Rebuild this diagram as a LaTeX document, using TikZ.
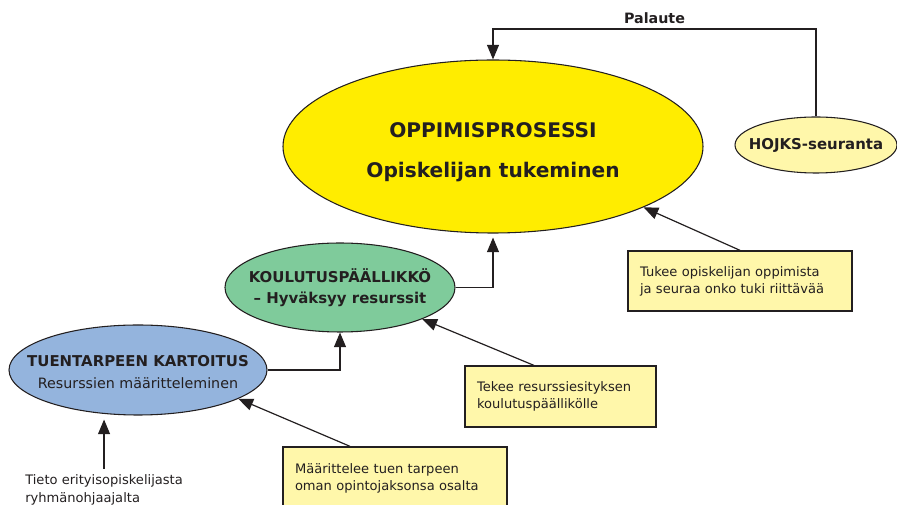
\documentclass[tikz,border=0pt]{standalone}
\usepackage{fontspec}
\setmainfont{DejaVu Sans}
\usepackage{tikz}
\usetikzlibrary{shapes.geometric,arrows.meta,calc}
\definecolor{ink}{RGB}{35,31,32}
\definecolor{oppi}{RGB}{255,237,0}
\definecolor{pale}{RGB}{255,247,170}
\definecolor{koul}{RGB}{127,203,155}
\definecolor{tuen}{RGB}{148,180,221}
\tikzset{
bubble/.style={ellipse,draw=ink,line width=0.8pt,inner sep=0pt},
btext/.style={text=ink,align=center,inner sep=0pt},
note/.style={rectangle,draw=ink,line width=1pt,fill=pale,text=ink,align=left,
  inner xsep=9pt,font=\fontsize{9.8}{12.8}\selectfont},
arr/.style={draw=ink,line width=0.9pt,-{Triangle[length=11pt,width=9pt]}},
}
\tikzstyle{big} = [font=\bfseries\fontsize{15.1}{30}\selectfont]
\tikzstyle{mid} = [font=\bfseries\fontsize{11.2}{15.75}\selectfont]

\begin{document}
\begin{tikzpicture}[x=0.75pt,y=-0.75pt]
\useasboundingbox (0,0) rectangle (897,505);

\node[bubble,fill=oppi,minimum width=315pt,minimum height=129.75pt] (opp) at (493,146.5) {};
\node[btext,big] (opptxt) at ([yshift=-4pt]opp.center) {OPPIMISPROSESSI\\Opiskelijan tukeminen};

\node[bubble,fill=pale,minimum width=121.5pt,minimum height=42pt] (hojks) at (816,145) {};
\node[btext,mid] (hojkstxt) at (hojks.center) {HOJKS-seuranta};

\node[bubble,fill=koul,minimum width=172.5pt,minimum height=66.75pt] (koul) at (340,287.5) {};
\node[btext,mid] (koultxt) at (koul.center) {KOULUTUSPÄÄLLIKKÖ\\– Hyväksyy resurssit};

\node[bubble,fill=tuen,minimum width=193.5pt,minimum height=67.5pt] (tuen) at (138,370) {};
\node[btext,font=\fontsize{10.7}{16.5}\selectfont] (tuentxt) at (138,372)
  {\textbf{\fontsize{11.2}{16.5}\selectfont TUENTARPEEN KARTOITUS}\\Resurssien määritteleminen};

\node[note,minimum height=45pt,text width=150pt] (tukee) at (740,281)
  {Tukee opiskelijan oppimista\\ja seuraa onko tuki riittävää};
\node[note,minimum height=45.75pt,text width=125.25pt] (tekee) at (560.5,396.5)
  {Tekee resurssiesityksen\\koulutuspäällikölle};
\node[note,minimum height=46.5pt,text width=150pt] (maar) at (395,478)
  {Määrittelee tuen tarpeen\\oman opintojaksonsa osalta};

\node[text=ink,align=left,anchor=west,inner xsep=0pt,inner ysep=4pt,
  font=\fontsize{9.8}{13.5}\selectfont] (tieto) at (25,489.5)
  {Tieto erityisopiskelijasta\\ryhmänohjaajalta};

\coordinate (fbk) at (816,29);
\draw[arr] (hojks.north) -- (fbk) -| node[pos=0.25,above,text=ink,
  font=\bfseries\fontsize{10.7}{12}\selectfont] (pal) {Palaute} (opp.north);

\draw[arr,shorten >=3pt] (koul.east) -| (opp.south);
\draw[arr] (tuen.east) -| (koul.south);
\draw[arr,shorten >=3pt] (tieto.north) -- (tieto.north |- tuen.south);

\draw[arr] (tukee.north) -- (opp.-22.6);
\draw[arr] ([xshift=-20pt]tekee.north) -- (koul.-21);
\draw[arr] ([xshift=-33.75pt]maar.north) -- (tuen.-16.4);
\end{tikzpicture}
\end{document}
